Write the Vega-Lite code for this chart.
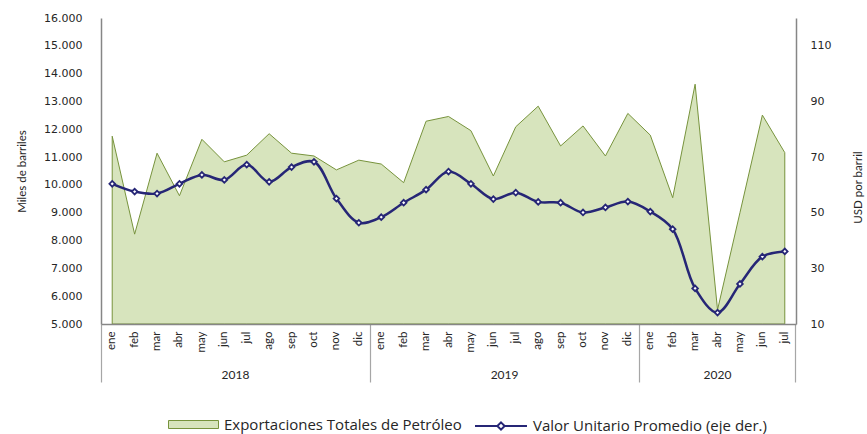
{
  "$schema": "https://vega.github.io/schema/vega-lite/v6.json",
  "autosize": {"type": "none"},
  "padding": {"left": 101, "top": 18, "right": 71, "bottom": 110},
  "width": 695,
  "height": 306,
  "background": "white",
  "config": {"view": {"stroke": null}, "axis": {"grid": false}},
  "data": {"values": [
    {"k": "2018-ene", "exp": 11750, "valor": 60.4},
    {"k": "2018-feb", "exp": 8230, "valor": 57.6},
    {"k": "2018-mar", "exp": 11140, "valor": 56.9},
    {"k": "2018-abr", "exp": 9610, "valor": 60.4},
    {"k": "2018-may", "exp": 11640, "valor": 63.6},
    {"k": "2018-jun", "exp": 10830, "valor": 61.8},
    {"k": "2018-jul", "exp": 11070, "valor": 67.3},
    {"k": "2018-ago", "exp": 11840, "valor": 61.1},
    {"k": "2018-sep", "exp": 11140, "valor": 66.4},
    {"k": "2018-oct", "exp": 11040, "valor": 68.3},
    {"k": "2018-nov", "exp": 10540, "valor": 55.1},
    {"k": "2018-dic", "exp": 10890, "valor": 46.4},
    {"k": "2019-ene", "exp": 10750, "valor": 48.4},
    {"k": "2019-feb", "exp": 10080, "valor": 53.6},
    {"k": "2019-mar", "exp": 12290, "valor": 58.3},
    {"k": "2019-abr", "exp": 12460, "valor": 64.8},
    {"k": "2019-may", "exp": 11950, "valor": 60.4},
    {"k": "2019-jun", "exp": 10320, "valor": 54.9},
    {"k": "2019-jul", "exp": 12090, "valor": 57.2},
    {"k": "2019-ago", "exp": 12830, "valor": 53.9},
    {"k": "2019-sep", "exp": 11400, "valor": 53.6},
    {"k": "2019-oct", "exp": 12120, "valor": 50.1},
    {"k": "2019-nov", "exp": 11040, "valor": 51.9},
    {"k": "2019-dic", "exp": 12570, "valor": 54.0},
    {"k": "2020-ene", "exp": 11790, "valor": 50.4},
    {"k": "2020-feb", "exp": 9540, "valor": 44.1},
    {"k": "2020-mar", "exp": 13620, "valor": 22.8},
    {"k": "2020-abr", "exp": 5510, "valor": 14.1},
    {"k": "2020-may", "exp": 9000, "valor": 24.4},
    {"k": "2020-jun", "exp": 12510, "valor": 34.2},
    {"k": "2020-jul", "exp": 11160, "valor": 36.1}
  ]},
  "layer": [
    {
      "mark": {"type": "area", "stroke": "#77933c", "strokeWidth": 1, "opacity": 1},
      "encoding": {
        "x": {"field": "k", "type": "ordinal", "sort": null, "bandPosition": 0.5,
              "scale": {"type": "band", "paddingInner": 0, "paddingOuter": 0},
              "axis": {"orient": "bottom", "title": null, "domain": true, "domainColor": "#868686", "domainWidth": 1.5,
                       "ticks": false, "labelAngle": -90, "labelExpr": "split(datum.value, '-')[1]",
                       "labelFont": "Lato", "labelFontSize": 11.5, "labelColor": "#262626", "labelPadding": 7, "zindex": 1}},
        "y": {"field": "exp", "type": "quantitative",
              "scale": {"domain": [5000, 16000], "nice": false, "zero": false},
              "axis": {"orient": "left", "values": [5000, 6000, 7000, 8000, 9000, 10000, 11000, 12000, 13000, 14000, 15000, 16000],
                       "labelExpr": "replace(format(datum.value, ',.0f'), ',', '.')",
                       "ticks": false, "domain": true, "domainColor": "#868686", "domainWidth": 1.5,
                       "labelFont": "DejaVu Sans", "labelFontSize": 11, "labelColor": "#262626", "labelPadding": 19,
                       "title": "Miles de barriles", "titleFont": "Lato", "titleFontSize": 11.5, "titleFontWeight": "normal",
                       "titleColor": "#262626", "titleX": -79, "titleY": 153, "titleAngle": 270, "titleBaseline": "middle", "titleAlign": "center", "zindex": 1}},
        "y2": {"datum": 5000},
        "fill": {"datum": "Exportaciones Totales de Petróleo", "type": "nominal",
                 "scale": {"range": ["#d7e4bd"]},
                 "legend": {"orient": "none", "legendX": 67, "legendY": 381, "direction": "horizontal", "title": null,
                            "symbolType": "M-1,-0.16H1V0.16H-1Z", "symbolSize": 2500, "symbolStrokeColor": "#77933c", "symbolStrokeWidth": 1,
                            "symbolOpacity": 1, "symbolFillColor": "#d7e4bd",
                            "labelFont": "Open Sans", "labelFontSize": 15, "labelColor": "#262626",
                            "labelOffset": 5, "labelLimit": 400}}
      }
    },
    {
      "mark": {"type": "line", "interpolate": "catmull-rom", "strokeWidth": 2.5},
      "encoding": {
        "x": {"field": "k", "type": "ordinal", "sort": null, "bandPosition": 0.5,
              "scale": {"type": "band", "paddingInner": 0, "paddingOuter": 0},
              "axis": {"orient": "bottom", "title": null, "values": ["2018-dic", "2019-dic", "2020-jul"], "bandPosition": 1,
                       "labels": false, "domain": false, "ticks": true, "tickSize": 58, "tickColor": "#a6a6a6", "tickWidth": 1.2}},
        "y": {"field": "valor", "type": "quantitative",
              "scale": {"domain": [10, 120], "nice": false, "zero": false},
              "axis": {"orient": "right", "values": [10, 30, 50, 70, 90, 110], "ticks": false, "domain": true,
                       "domainColor": "#868686", "domainWidth": 1.5,
                       "labelFont": "DejaVu Sans", "labelFontSize": 11, "labelColor": "#262626", "labelPadding": 14,
                       "title": "USD por barril", "titleFont": "Lato", "titleFontSize": 11.5, "titleFontWeight": "normal",
                       "titleColor": "#262626", "titleX": 62, "titleY": 169, "titleAngle": 270, "titleBaseline": "middle", "titleAlign": "center", "zindex": 1}},
        "stroke": {"datum": "Valor Unitario Promedio (eje der.)", "type": "nominal",
                   "scale": {"range": ["#262676"]},
                   "legend": {"orient": "none", "legendX": 373, "legendY": 381, "direction": "horizontal", "title": null,
                              "symbolType": "M-1,0H-0.14M0.14,0H1M0,-0.14L0.14,0L0,0.14L-0.14,0Z", "symbolSize": 2700,
                              "symbolStrokeWidth": 2, "symbolFillColor": "#ffffff", "symbolOpacity": 1,
                              "labelFont": "Open Sans", "labelFontSize": 15, "labelColor": "#262626",
                              "labelOffset": 5, "labelLimit": 400}}
      }
    },
    {
      "mark": {"type": "point", "shape": "diamond", "size": 32, "filled": true, "fill": "#ffffff", "stroke": "#262676", "strokeWidth": 1.8, "opacity": 1},
      "encoding": {
        "x": {"field": "k", "type": "ordinal", "sort": null, "bandPosition": 0.5,
              "scale": {"type": "band", "paddingInner": 0, "paddingOuter": 0},
              "axis": {"orient": "bottom", "title": null, "values": ["2018-ene"], "bandPosition": 0,
                       "labels": false, "domain": false, "ticks": true, "tickSize": 58, "tickColor": "#a6a6a6", "tickWidth": 1.2}},
        "y": {"field": "valor", "type": "quantitative",
              "scale": {"domain": [10, 120], "nice": false, "zero": false}, "axis": null}
      }
    },
    {
      "mark": {"type": "point", "opacity": 0},
      "encoding": {
        "x": {"field": "k", "type": "ordinal", "sort": null, "bandPosition": 0.5,
              "scale": {"type": "band", "paddingInner": 0, "paddingOuter": 0},
              "axis": {"orient": "bottom", "title": null, "values": ["2018-jul", "2019-jul", "2020-abr"],
                       "labelExpr": "split(datum.value, '-')[0]", "labelAngle": 0,
                       "labelOffset": {"condition": {"test": "datum.value === '2020-abr'", "value": 0}, "value": -11.2},
                       "ticks": false, "tickSize": 0, "domain": false, "labelPadding": 45,
                       "labelFont": "Lato", "labelFontSize": 12, "labelColor": "#262626"}}
      }
    }
  ],
  "resolve": {"scale": {"y": "independent"}, "axis": {"x": "independent", "y": "independent"}}
}
